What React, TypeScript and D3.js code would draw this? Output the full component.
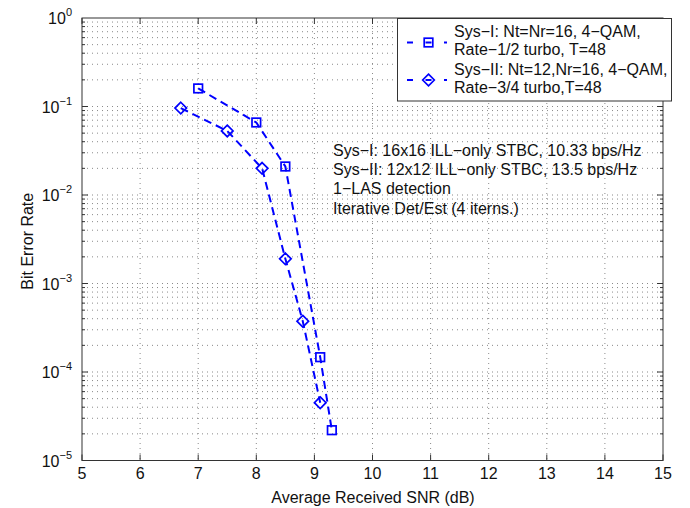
import React from "react";
import * as d3 from "d3";

const sys1X = [7, 8, 8.5, 9.1, 9.3];
const sys1Y = [0.16, 0.066, 0.021, 1.47e-4, 2.2e-5];
const sys2X = [6.7, 7.5, 8.1, 8.5, 8.8, 9.1];
const sys2Y = [0.096, 0.053, 0.02, 1.9e-3, 3.75e-4, 4.5e-5];
const xTicks = [5, 6, 7, 8, 9, 10, 11, 12, 13, 14, 15];
const yExponents = [0, -1, -2, -3, -4, -5];
const legendLines = [
  ["Sys−I: Nt=Nr=16, 4−QAM,", "Rate−1/2 turbo, T=48"],
  ["Sys−II: Nt=12,Nr=16, 4−QAM,", "Rate−3/4 turbo,T=48"],
];
const annotation = [
  "Sys−I: 16x16 ILL−only STBC, 10.33 bps/Hz",
  "Sys−II: 12x12 ILL−only STBC, 13.5 bps/Hz",
  "1−LAS detection",
  "Iterative Det/Est (4 iterns.)",
];

const W = 690, H = 508;
const L = 82, R = 663, T = 18, B = 460.5;
const BLUE = "#0000ff";
const FONT = "'Liberation Sans', Arial, Helvetica, sans-serif";
const FS = 16;

function Square({ x, y }: { x: number; y: number }) {
  const s = 4.3;
  return <rect x={x - s} y={y - s} width={2 * s} height={2 * s} fill="none" stroke={BLUE} strokeWidth={1.7} />;
}
function Diamond({ x, y }: { x: number; y: number }) {
  const s = 5.8;
  return <path d={`M${x},${y - s}L${x + s},${y}L${x},${y + s}L${x - s},${y}Z`} fill="none" stroke={BLUE} strokeWidth={1.7} />;
}

export default function App() {
  const xs = d3.scaleLinear().domain([5, 15]).range([L, R]);
  const ys = d3.scaleLog().domain([1e-5, 1]).range([B, T]);
  const line = d3.line<[number, number]>().x((d) => xs(d[0])).y((d) => ys(d[1]));
  const s1 = sys1X.map((x, i) => [x, sys1Y[i]] as [number, number]);
  const s2 = sys2X.map((x, i) => [x, sys2Y[i]] as [number, number]);

  const minorY: number[] = [];
  for (let e = -5; e < 0; e++) for (let k = 1; k <= 9; k++) minorY.push(k * Math.pow(10, e));

  const legX = 397.5, legY = 18.5, legW = 274, legH = 82.5;

  return (
    <svg width={W} height={H} style={{ position: "absolute", left: 0, top: 0, background: "#fff" }} fontFamily={FONT}>
      <rect x={0} y={0} width={W} height={H} fill="#fff" />
      {/* grid */}
      <g stroke="#8a8a8a" strokeWidth={1} strokeDasharray="1 4">
        {xTicks.slice(1, -1).map((t) => (
          <line key={"gx" + t} x1={xs(t)} x2={xs(t)} y1={T} y2={B} />
        ))}
        {minorY.slice(1).map((v, i) => (
          <line key={"gy" + i} x1={L} x2={R} y1={ys(v)} y2={ys(v)} />
        ))}
      </g>
      {/* ticks */}
      <g stroke="#333" strokeWidth={1}>
        {xTicks.map((t) => (
          <g key={"tx" + t}>
            <line x1={xs(t)} x2={xs(t)} y1={B} y2={B - 6} />
            <line x1={xs(t)} x2={xs(t)} y1={T} y2={T + 6} />
          </g>
        ))}
        {minorY.map((v, i) => {
          const major = i % 9 === 0;
          const len = major ? 6 : 3;
          return (
            <g key={"ty" + i}>
              <line x1={L} x2={L + len} y1={ys(v)} y2={ys(v)} />
              <line x1={R} x2={R - len} y1={ys(v)} y2={ys(v)} />
            </g>
          );
        })}
      </g>
      <rect x={L} y={T} width={R - L} height={B - T} fill="none" stroke="#333" strokeWidth={1} />
      {/* tick labels */}
      <g fontSize={FS} fill="#111">
        {xTicks.map((t) => (
          <text key={"lx" + t} x={xs(t)} y={479} textAnchor="middle">{t}</text>
        ))}
        {yExponents.map((e) => (
          <text key={"ly" + e} x={L - 10} y={ys(Math.pow(10, e)) + 6} textAnchor="end">
            10
            <tspan fontSize={11} dy={-8}>{e < 0 ? "−" + Math.abs(e) : String(e)}</tspan>
          </text>
        ))}
      </g>
      <text x={373} y={503} textAnchor="middle" fontSize={FS} fill="#111">Average Received SNR (dB)</text>
      <text transform={`translate(33,${(T + B) / 2 + 2}) rotate(-90)`} textAnchor="middle" fontSize={FS} fill="#111">Bit Error Rate</text>
      {/* series */}
      <path d={line(s1) || ""} fill="none" stroke={BLUE} strokeWidth={2} strokeDasharray="8 5" />
      <path d={line(s2) || ""} fill="none" stroke={BLUE} strokeWidth={2} strokeDasharray="8 5" />
      {s1.map((d, i) => <Square key={"sq" + i} x={xs(d[0])} y={ys(d[1])} />)}
      {s2.map((d, i) => <Diamond key={"dm" + i} x={xs(d[0])} y={ys(d[1])} />)}
      {/* annotation */}
      <g fontSize={FS} fill="#111">
        {annotation.map((t, i) => (
          <text key={"an" + i} x={333} y={156 + i * 19.2}>{t}</text>
        ))}
      </g>
      {/* legend */}
      <rect x={legX} y={legY} width={legW} height={legH} fill="#fff" stroke="#333" strokeWidth={1} />
      {legendLines.map((lines, i) => {
        const my = i === 0 ? 42.5 : 80;
        return (
          <g key={"lg" + i}>
            <line x1={406} x2={447} y1={my} y2={my} stroke={BLUE} strokeWidth={2} strokeDasharray="6 12.5" strokeDashoffset={-1} />
            {i === 0 ? <Square x={428.5} y={my} /> : <Diamond x={428.5} y={my} />}
            <text x={454} y={my - 5.5} fontSize={FS} fill="#111">{lines[0]}</text>
            <text x={454} y={my + 12.5} fontSize={FS} fill="#111">{lines[1]}</text>
          </g>
        );
      })}
    </svg>
  );
}
